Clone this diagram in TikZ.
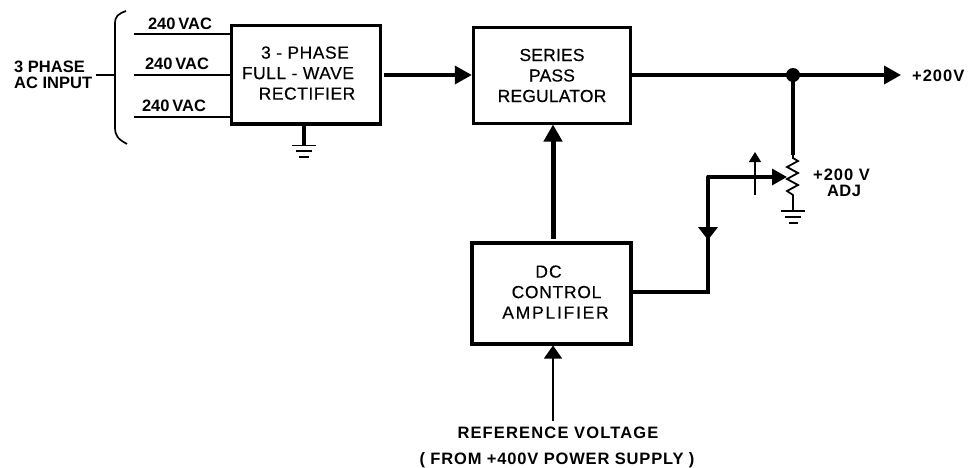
\documentclass[tikz,border=0pt]{standalone}
\usepackage{fontspec}
\setmainfont{Liberation Sans}
\newfontfamily\boxfont[FakeBold=0.35]{Liberation Sans}
\usetikzlibrary{arrows.meta,calc}
\newcommand{\spc}[2]{{\addfontfeatures{LetterSpace=#1}#2}}
\tikzset{
  block/.style={draw,line width=2.2pt,inner sep=0pt,align=center,font=\boxfont\fontsize{17.5}{20.5}\selectfont},
  lbl/.style={inner sep=0pt,font=\fontsize{16.5}{16.5}\selectfont\bfseries,align=center},
  thin wire/.style={line width=1.7pt},
  bus/.style={line width=3.6pt},
  mid/.style={line width=3.2pt},
  head/.style={-{Triangle[length=17pt,width=18pt]}},
  gnd/.style={line width=1.7pt}
}
\begin{document}
\begin{tikzpicture}[x=1pt,y=-1pt,line cap=butt]
\useasboundingbox (0,0) rectangle (974,467);
% blocks
\node[block,text depth=3pt,minimum width=149pt,minimum height=98pt] (rect) at (306,74.5) {\hspace*{-2pt}\spc{3}{3 - PHASE}\\\hspace*{-16pt}\spc{3}{FULL - WAVE}\\\hspace*{2pt}\spc{3}{RECTIFIER}};
\draw[line width=3.4pt] (rect.south west) -- (rect.south east);
\node[block,line width=3.4pt,minimum width=157pt,minimum height=96pt] (reg) at (552,75.5) {\spc{1}{SERIES}\\\spc{1}{PASS}\\\spc{1}{REGULATOR}};
\node[block,text depth=3pt,line width=3.4pt,minimum width=159pt,minimum height=101pt] (amp) at (551.5,293.5) {\hspace*{-6pt}\spc{6}{DC}\\\hspace*{10pt}\spc{4}{CONTROL}\\\hspace*{8pt}\spc{10}{AMPLIFIER}};
% input
\node[lbl,align=left,anchor=west] (in) at (14,75) {3 PHASE\\AC INPUT};
\coordinate (bt) at (126,11);
\coordinate (bb) at (127,144);
\coordinate (bm) at (115,75);
\draw[thin wire] (bt) .. controls (118,14) and (115,16) .. (115,24) -- (115,127) .. controls (115,136) and (118,139) .. (bb);
\draw[thin wire] (96,75) -- (bm);
\coordinate (a1) at (134,34); \coordinate (a2) at (134,75); \coordinate (a3) at (134,117);
\draw[thin wire] (a1) -- (a1 -| rect.west);
\draw[thin wire] (a2) -- (a2 -| rect.west);
\draw[thin wire] (a3) -- (a3 -| rect.west);
\node[lbl] (v1) at (180,24) {240\,VAC};
\node[lbl] (v2) at (177,64) {240\,VAC};
\node[lbl] (v3) at (174,106) {240\,VAC};
% rectifier ground
\coordinate (g1) at (304,145);
\draw[line width=4.5pt] (rect.south -| g1) -- (g1);
\draw[gnd] (292,145.5) -- (316,145.5) (296,151) -- (312,151);
\draw[line width=2pt] (299,156.5) -- (309,156.5);
% main path
\draw[bus,head] (rect.east) ++(2,0.5) coordinate (r0) -- (reg.west |- r0);
\coordinate (dot) at (793,75);
\coordinate (out) at (901,75);
\draw[bus,head] (reg.east |- dot) -- (out);
\fill (dot) circle (7pt);
\node[lbl,anchor=west] (vout) at (912,76) {\spc{6}{+200V}};
% amp to reg
\draw[line width=5pt,head] (553,239) -- (553,124.5);
% reference
\coordinate (refs) at (553,421);
\draw[line width=1.2pt,-{Triangle[length=13pt,width=18pt]}] (refs) -- (553,345.5);
\node[lbl] (ref1) at (558,433) {\spc{7}{REFERENCE  VOLTAGE}};
\node[lbl] (ref2) at (557,460) {\spc{5}{( FROM +400V POWER SUPPLY )}};
% potentiometer
\coordinate (rtop) at (793,155);
\coordinate (rbot) at (793,197);
\draw[line width=3.6pt] (dot) -- (rtop);
\draw[line width=1.8pt,line join=miter] (rtop) -- (793,158) -- (798,161) -- (787,167) -- (798,173) -- (787,179) -- (798,185) -- (787,191) -- (793,195) -- (rbot) -- (793,211);
\draw[gnd] (781,211) -- (805,211) (785,217) -- (801,217);
\draw[line width=2pt] (789,223) -- (798,223);
% wiper and feedback
\coordinate (corner) at (708,177);
\coordinate (wiper) at (787,177);
\draw[mid,-{Triangle[length=15pt,width=16pt]}] (corner) ++(-1.5,0) -- (wiper);
\draw[line width=1.3pt,-{Triangle[length=10pt,width=12pt]}] (755,195) -- (755,152);
\coordinate (fb) at (708,292);
\draw[line width=3.6pt,line cap=round] (amp.east |- fb) -- (fb) -- (corner);
\fill (708,240) -- (698,227) -- (718,227) -- cycle;
\node[lbl] (adj1) at (841.5,175) {\spc{6}{+200 V}};
\node[lbl] (adj2) at (844,191) {\spc{3}{ADJ}};
\end{tikzpicture}
\end{document}
